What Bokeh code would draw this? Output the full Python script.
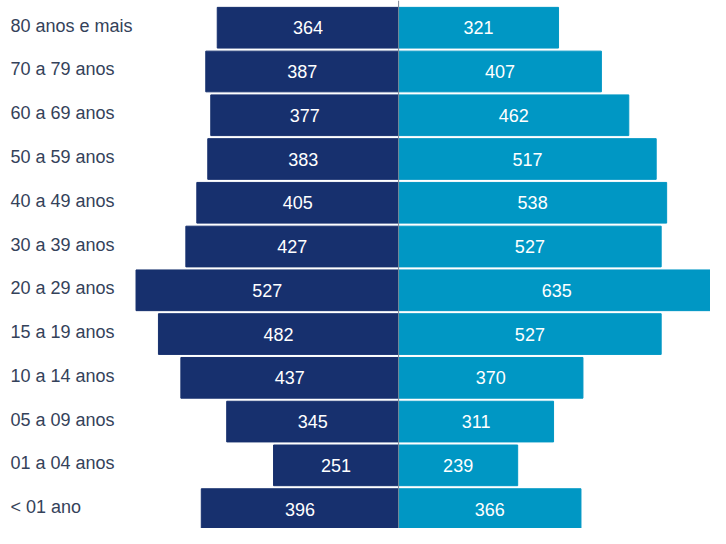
from bokeh.plotting import figure
from bokeh.models import ColumnDataSource, Range1d, Span
from bokeh.core.properties import value
from bokeh.embed import file_html
from bokeh.resources import INLINE

categories = ["80 anos e mais", "70 a 79 anos", "60 a 69 anos", "50 a 59 anos",
              "40 a 49 anos", "30 a 39 anos", "20 a 29 anos", "15 a 19 anos",
              "10 a 14 anos", "05 a 09 anos", "01 a 04 anos", "< 01 ano"]
left_values = [364, 387, 377, 383, 405, 427, 527, 482, 437, 345, 251, 396]
right_values = [321, 407, 462, 517, 538, 527, 635, 527, 370, 311, 239, 366]

n = len(categories)
ypos = [n - 1 - i for i in range(n)]

src = ColumnDataSource(dict(
    y=ypos,
    cat=categories,
    lneg=[-v for v in left_values],
    lmid=[-v / 2 for v in left_values],
    ltxt=[str(v) for v in left_values],
    rval=right_values,
    rmid=[v / 2 for v in right_values],
    rtxt=[str(v) for v in right_values],
    lab_x=[-779] * n,
))

p = figure(width=710, height=528, output_backend="svg", toolbar_location=None,
           x_range=Range1d(-799, 626), y_range=Range1d(-0.443, 11.622),
           min_border=0, min_border_left=0, min_border_right=0,
           min_border_top=0, min_border_bottom=0)
p.axis.visible = False
p.grid.visible = False
p.outline_line_color = None
p.background_fill_color = "white"
p.border_fill_color = "white"

p.hbar(y="y", left="lneg", right=0, height=0.93, source=src,
       fill_color="#17306e", line_color="#17306e")
p.hbar(y="y", left=0, right="rval", height=0.93, source=src,
       fill_color="#0097c4", line_color="#0097c4")

p.add_layout(Span(location=0, dimension="height", line_color="#7d8796", line_width=1))

p.text(x="lmid", y="y", text="ltxt", source=src, text_color="white",
       text_font=value("Liberation Sans"), text_font_size="18px",
       text_align="center", text_baseline="middle")
p.text(x="rmid", y="y", text="rtxt", source=src, text_color="white",
       text_font=value("Liberation Sans"), text_font_size="18px",
       text_align="center", text_baseline="middle")
p.text(x="lab_x", y="y", text="cat", source=src, text_color="#34425a",
       text_font=value("Liberation Sans"), text_font_size="18px",
       text_align="left", text_baseline="middle", y_offset=-2)

open("out.html", "w").write(file_html(p, INLINE))
